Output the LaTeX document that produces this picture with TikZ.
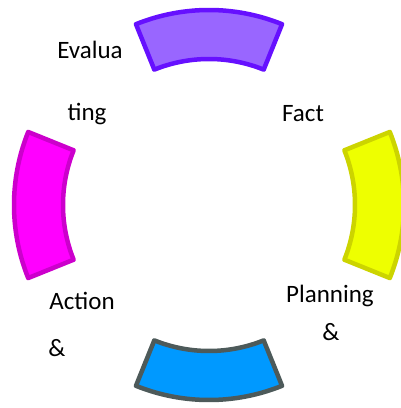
\documentclass[tikz,border=0pt]{standalone}
\usepackage{fontspec}
\setmainfont{Carlito}
\begin{document}
\begin{tikzpicture}[x=1pt,y=1pt,
  seg/.style={line width=4.5pt, line join=round},
  lbl/.style={font=\fontsize{25}{29}\selectfont, anchor=base, inner sep=0pt, text=black}]
\definecolor{purpF}{HTML}{9966FF}\definecolor{purpD}{HTML}{6610FF}
\definecolor{yelF}{HTML}{EEFF00}\definecolor{yelD}{HTML}{CCD400}
\definecolor{bluF}{HTML}{0099FF}\definecolor{bluD}{HTML}{4D5A5A}
\definecolor{magF}{HTML}{FF00FF}\definecolor{magD}{HTML}{CC00CC}
\useasboundingbox (0,0) rectangle (401,408);
\clip (0,0) rectangle (401,408);
\coordinate (c) at (209,203);
\def\Ro{195pt}\def\Ri{146pt}
% top
\draw[seg, draw=purpD, fill=purpF] ([shift={(68:\Ro)}]c) arc[start angle=68,end angle=112,radius=\Ro] -- ([shift={(112:\Ri)}]c) arc[start angle=112,end angle=68,radius=\Ri] -- cycle;
% right
\draw[seg, draw=yelD, fill=yelF] ([shift={(-22:\Ro)}]c) arc[start angle=-22,end angle=22,radius=\Ro] -- ([shift={(22:\Ri)}]c) arc[start angle=22,end angle=-22,radius=\Ri] -- cycle;
% bottom
\draw[seg, draw=bluD, fill=bluF] ([shift={(248:\Ro)}]c) arc[start angle=248,end angle=292,radius=\Ro] -- ([shift={(292:\Ri)}]c) arc[start angle=292,end angle=248,radius=\Ri] -- cycle;
% left
\draw[seg, draw=magD, fill=magF] ([shift={(158:\Ro)}]c) arc[start angle=158,end angle=202,radius=\Ro] -- ([shift={(202:\Ri)}]c) arc[start angle=202,end angle=158,radius=\Ri] -- cycle;
% labels
\node[lbl] (eval) at (90,349) {Evalua};
\node[lbl] (ting) at (87,287) {ting};
\node[lbl] (fact) at (303,286) {Fact};
\node[lbl] (plan) at (330,106) {Planning};
\node[lbl] (amp1) at (331,67) {\&};
\node[lbl] (act) at (82,99) {Action};
\node[lbl] (amp2) at (57,52) {\&};
\end{tikzpicture}
\end{document}
